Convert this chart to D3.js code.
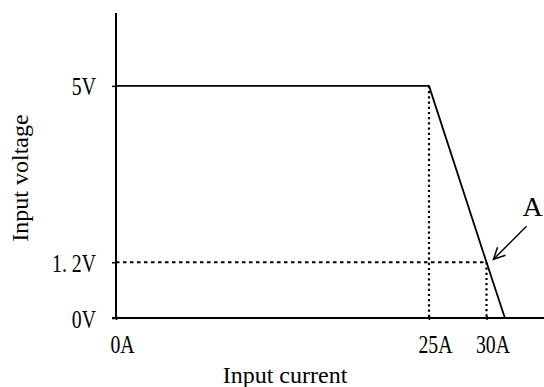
<!DOCTYPE html>
<html>
<head>
<meta charset="utf-8">
<script src="https://cdn.jsdelivr.net/npm/d3@7"></script>
<style>
  body { margin: 0; background: #fff; }
  svg { display: block; }
  .tick-label { font-family: "Liberation Serif", "DejaVu Serif", serif; font-size: 26px; fill: #000; }
  .title { font-family: "Liberation Serif", "DejaVu Serif", serif; font-size: 24px; fill: #000; }
</style>
</head>
<body>
<svg id="chart" width="544" height="387"></svg>
<script>
// Input voltage vs. input current characteristic
const currentTicks = [0, 25, 30];
const currentTickLabels = ["0A", "25A", "30A"];
const voltageTicks = [0, 1.2, 5];
const voltageTickLabels = ["0V", "1. 2V", "5V"];

// Characteristic curve (A, V)
const curveCurrent = [0, 25, 30, 31.6];
const curveVoltage = [5, 5, 1.2, 0];

// Annotated operating point
const pointCurrent = [30];
const pointVoltage = [1.2];
const pointLabel = ["A"];

const svg = d3.select("#chart");
const W = 544, H = 387;
const plotLeft = 116, plotBottom = 318, plotTop = 13;

// Current axis is broken: the 25–35 A span is drawn stretched out
const x = d3.scaleLinear().domain([0, 25, 35]).range([plotLeft, 429, W]);
const y = d3.scaleLinear().domain([0, 6.57]).range([plotBottom, plotTop]);

// tick glyphs are drawn horizontally condensed
const labelScale = 0.76;

// Y axis
const yAxis = svg.append("g")
  .attr("transform", `translate(${plotLeft},0)`)
  .call(d3.axisLeft(y).tickValues(voltageTicks)
    .tickFormat((d, i) => voltageTickLabels[i]).tickSize(4).tickPadding(16));
yAxis.select(".domain").attr("stroke", "#000").attr("stroke-width", 2).attr("d", `M0,${y(0)}V${plotTop}`);
yAxis.selectAll(".tick line").attr("stroke", "#000").attr("stroke-width", 1.5);
yAxis.selectAll(".tick text")
  .attr("class", "tick-label")
  .attr("x", -20 / labelScale)
  .attr("dy", "0.35em")
  .attr("transform", `scale(${labelScale},1)`);

// X axis
const xAxis = svg.append("g")
  .attr("transform", `translate(0,${plotBottom})`)
  .call(d3.axisBottom(x).tickValues(currentTicks)
    .tickFormat((d, i) => currentTickLabels[i]).tickSize(3).tickPadding(20));
xAxis.select(".domain").attr("stroke", "#000").attr("stroke-width", 2).attr("d", `M${plotLeft - 4},0H${W}`);
xAxis.selectAll(".tick line").attr("stroke", "#000").attr("stroke-width", 1.5).attr("y1", -2).attr("y2", 2);
xAxis.selectAll(".tick text")
  .attr("class", "tick-label")
  .attr("y", 35)
  .attr("dy", 0)
  .attr("x", 6 / labelScale)
  .attr("transform", `scale(${labelScale},1)`);

// Guide lines to the curve's corner points
const guides = svg.append("g").attr("fill", "none").attr("stroke", "#000");
guides.append("line")
  .attr("x1", x(curveCurrent[1])).attr("x2", x(curveCurrent[1]))
  .attr("y1", y(curveVoltage[1])).attr("y2", y(0))
  .attr("stroke-width", 2.2).attr("stroke-dasharray", "2.2,3");
guides.append("line")
  .attr("x1", x(pointCurrent[0])).attr("x2", x(pointCurrent[0]))
  .attr("y1", y(pointVoltage[0])).attr("y2", y(0))
  .attr("stroke-width", 2.2).attr("stroke-dasharray", "2.2,3");
guides.append("line")
  .attr("x1", x(0)).attr("x2", x(pointCurrent[0]))
  .attr("y1", y(pointVoltage[0])).attr("y2", y(pointVoltage[0]))
  .attr("stroke-width", 2).attr("stroke-dasharray", "3.5,3.5");

// Characteristic curve
const curve = d3.line().x(d => x(d[0])).y(d => y(d[1]));
svg.append("path")
  .datum(curveCurrent.map((c, i) => [c, curveVoltage[i]]))
  .attr("d", curve)
  .attr("fill", "none")
  .attr("stroke", "#000")
  .attr("stroke-width", 1.8)
  .attr("stroke-linejoin", "round");

// Callout arrow and label for point A
const px = x(pointCurrent[0]), py = y(pointVoltage[0]);
const tip = [px + 7, py - 3], tail = [px + 40, py - 36];
svg.append("line")
  .attr("x1", tail[0]).attr("y1", tail[1])
  .attr("x2", tip[0]).attr("y2", tip[1])
  .attr("stroke", "#000").attr("stroke-width", 1.5);
svg.append("path")
  .attr("d", `M${tip[0] + 4},${tip[1] - 12}L${tip[0]},${tip[1]}L${tip[0] + 12},${tip[1] - 4}`)
  .attr("fill", "none").attr("stroke", "#000").attr("stroke-width", 1.5);
svg.append("text")
  .attr("class", "title")
  .attr("x", px + 46).attr("y", py - 46)
  .attr("text-anchor", "middle")
  .style("font-size", "28px")
  .text(pointLabel[0]);

// Axis titles
svg.append("text")
  .attr("class", "title")
  .attr("x", 285).attr("y", 383)
  .attr("text-anchor", "middle")
  .text("Input current");
svg.append("text")
  .attr("class", "title")
  .attr("transform", "translate(28,178) rotate(-90)")
  .attr("text-anchor", "middle")
  .text("Input voltage");
</script>
</body>
</html>
